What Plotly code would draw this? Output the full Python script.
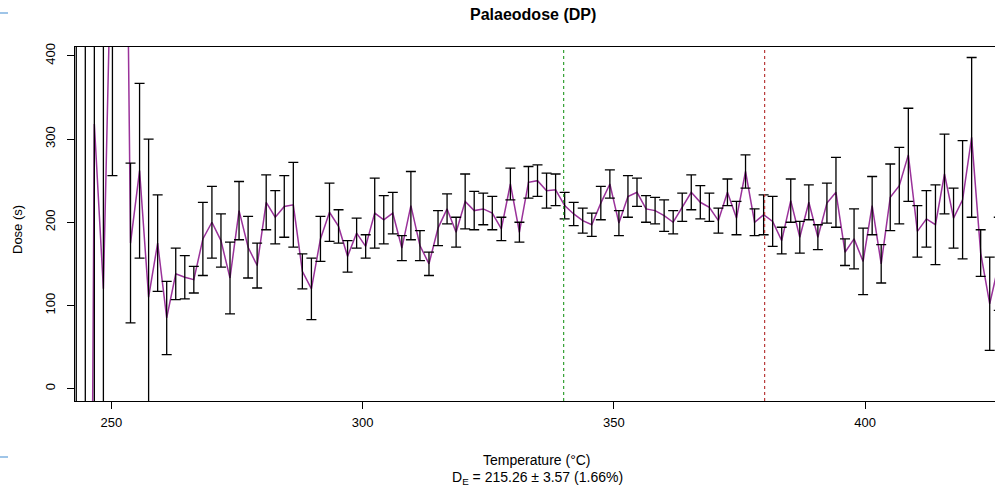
import plotly.graph_objects as go

temperature = [243.0, 244.8, 246.6, 248.4, 250.2, 252.0, 253.8, 255.6, 257.4, 259.2,
               261.0, 262.8, 264.6, 266.4, 268.2, 270.0, 271.8, 273.6, 275.4, 277.2,
               279.0, 280.8, 282.6, 284.4, 286.2, 288.0, 289.8, 291.6, 293.4, 295.2,
               297.0, 298.8, 300.6, 302.4, 304.2, 306.0, 307.8, 309.6, 311.4, 313.2,
               315.0, 316.8, 318.6, 320.4, 322.2, 324.0, 325.8, 327.6, 329.4, 331.2,
               333.0, 334.8, 336.6, 338.4, 340.2, 342.0, 343.8, 345.6, 347.4, 349.2,
               351.0, 352.8, 354.6, 356.4, 358.2, 360.0, 361.8, 363.6, 365.4, 367.2,
               369.0, 370.8, 372.6, 374.4, 376.2, 378.0, 379.8, 381.6, 383.4, 385.2,
               387.0, 388.8, 390.6, 392.4, 394.2, 396.0, 397.8, 399.6, 401.4, 403.2,
               405.0, 406.8, 408.6, 410.4, 412.2, 414.0, 415.8, 417.6, 419.4, 421.2,
               423.0, 424.8, 426.6]

dose = [-800, -1500, 318, 120, 600, 1200, 175, 262, 110, 175,
        85, 138, 134, 131, 180, 200, 178, 133, 214, 170,
        148, 224, 206, 219, 221, 141, 120, 180, 212, 195,
        159, 187, 171, 211, 203, 211, 169, 220, 172, 150,
        193, 216, 188, 225, 214, 216, 211, 192, 246, 188,
        248, 250, 238, 239, 220, 210, 202, 197, 223, 246,
        199, 231, 236, 216, 214, 208, 200, 218, 236, 224,
        218, 202, 236, 205, 261, 200, 209, 201, 178, 226,
        182, 224, 182, 223, 236, 164, 180, 153, 220, 150,
        230, 244, 281, 189, 204, 197, 258, 205, 227, 302,
        163, 102, 150]

dose_err = [1300, 2000, 600, 450, 344, 500, 96, 105, 190, 58,
            44, 31, 26, 16, 44, 43, 32, 43, 35, 37,
            27, 33, 32, 37, 51, 21, 37, 27, 35, 20,
            19, 18, 14, 42, 29, 25, 15, 41, 18, 14,
            21, 18, 18, 33, 23, 19, 20, 14, 19, 12,
            19, 19, 21, 19, 16, 14, 15, 14, 20, 17,
            15, 25, 17, 16, 16, 19, 14, 17, 21, 20,
            17, 15, 16, 20, 20, 16, 24, 30, 16, 26,
            19, 21, 15, 24, 42, 16, 36, 40, 35, 23,
            40, 46, 56, 31, 34, 48, 48, 36, 71, 96,
            28, 56, 56]

x_ticks = [250, 300, 350, 400]
y_ticks = [0, 100, 200, 300, 400]
plateau_limits = [340, 380]
plateau_colors = ["#33a033", "#b83a3a"]

title_text = "<b>Palaeodose (DP)</b>"
x_title = "Temperature (°C)"
de_text = "D<sub>E</sub> = 215.26 ± 3.57 (1.66%)"
y_title = "Dose (s)"

W, H = 995, 486
ML, MR, MT, MB = 75, 0, 47, 85
plot_h = H - MT - MB

fig = go.Figure()
fig.add_trace(go.Scatter(
    x=temperature, y=dose, mode="lines",
    line=dict(color="#9a329a", width=1.5),
    hoverinfo="skip", showlegend=False,
))
fig.add_trace(go.Scatter(
    x=temperature, y=dose, mode="markers",
    marker=dict(size=1, color="rgba(0,0,0,0)"),
    error_y=dict(type="data", array=dose_err, visible=True,
                 color="black", thickness=1.3, width=5),
    hoverinfo="skip", showlegend=False,
))

for xv, col in zip(plateau_limits, plateau_colors):
    fig.add_shape(type="line", xref="x", yref="paper", x0=xv, x1=xv, y0=0, y1=1,
                  line=dict(color=col, width=1.2, dash="dot"))

font_family = "Liberation Sans, Arial, sans-serif"

fig.update_layout(
    width=W, height=H,
    margin=dict(l=ML, r=MR, t=MT, b=MB),
    paper_bgcolor="white", plot_bgcolor="white",
    font=dict(family=font_family, size=13, color="black"),
    xaxis=dict(range=[242.75, 425.85], tickvals=x_ticks, ticks="outside", ticklen=7,
               tickcolor="black", showline=True, linecolor="black", linewidth=1,
               mirror=True, showgrid=False, zeroline=False, tickfont=dict(size=13),
               ticklabelstandoff=2),
    yaxis=dict(range=[-14.8, 410.6], tickvals=y_ticks, ticks="outside", ticklen=7,
               tickcolor="black", showline=True, linecolor="black", linewidth=1,
               mirror=False, showgrid=False, zeroline=False, tickangle=-90,
               tickfont=dict(size=13), ticklabelstandoff=7),
)

def py(pix):
    return (H - MB - pix) / plot_h

annotations = [
    dict(text=title_text, x=533, y=15, font=dict(size=16)),
    dict(text=x_title, x=537, y=460, font=dict(size=14)),
    dict(text=de_text, x=537, y=478, font=dict(size=14)),
    dict(text=y_title, x=18, y=230, font=dict(size=13), textangle=-90),
]
for a in annotations:
    fig.add_annotation(text=a["text"], xref="paper", yref="paper",
                       x=(a["x"] - ML) / (W - ML - MR), y=py(a["y"]),
                       xanchor="center", yanchor="middle", showarrow=False,
                       font=a["font"], textangle=a.get("textangle", 0))

# light blue artefact dashes at the left edge
for yy in [13, 457]:
    fig.add_shape(type="line", xref="paper", yref="paper",
                  x0=(0 - ML) / (W - ML - MR), x1=(8 - ML) / (W - ML - MR),
                  y0=py(yy), y1=py(yy), line=dict(color="#7fb2e0", width=1.5))

fig.write_html("out.html")
